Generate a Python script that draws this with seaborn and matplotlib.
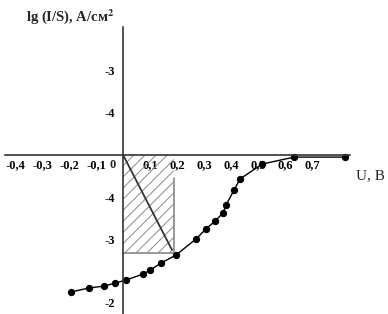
import matplotlib
matplotlib.use('Agg')
import matplotlib.pyplot as plt
import seaborn as sns
import pandas as pd

# voltage, V
u_volts = [-0.193, -0.126, -0.070, -0.030, 0.011, 0.074, 0.100, 0.141, 0.196,
           0.270, 0.307, 0.341, 0.370, 0.381, 0.411, 0.433, 0.515, 0.633, 0.822]
# lg(I/S) in the chart's own tick units (0 = horizontal axis)
lg_units = [-6.52, -6.33, -6.24, -6.10, -5.95, -5.67, -5.48, -5.14, -4.76,
            -4.00, -3.52, -3.14, -2.76, -2.38, -1.67, -1.14, -0.43, -0.10, -0.10]

x_ticks = [-0.4, -0.3, -0.2, -0.1, 0.1, 0.2, 0.3, 0.4, 0.5, 0.6, 0.7]
x_labels = ['-0,4', '-0,3', '-0,2', '-0,1', '0,1', '0,2', '0,3', '0,4', '0,5', '0,6', '0,7']
y_ticks = [6, 5, 4, 3, 2, 1, -1, -2, -3, -4, -5, -6, -7]
y_labels = ['', '', '-3', '', '-4', '', '', '-4', '', '-3', '', '', '-2']

# hatched region and its diagonal
box_x = [0, 0.19]
box_bottom = -4.67
diag_x = [0, 0.181]
diag_y = [0, -4.52]

df = pd.DataFrame({'U': u_volts, 'lg': lg_units})

sns.set_style('white')
plt.rcParams['font.family'] = ['Liberation Serif', 'DejaVu Serif']
plt.rcParams['mathtext.fontset'] = 'stix'
plt.rcParams['hatch.linewidth'] = 0.7

fig = plt.figure(figsize=(3.88, 3.14), dpi=100)
ax = fig.add_axes([0, 0, 1, 1])
ax.patch.set_alpha(0)

ax.fill_between(box_x, box_bottom, 0, facecolor='none', edgecolor='#8a8a8a',
                hatch='///', linewidth=0)
ax.plot([box_x[1], box_x[1], box_x[0]], [-1.1, box_bottom, box_bottom],
        color='#888888', lw=1.2)
ax.plot(diag_x, diag_y, color='#333333', lw=1.3)

sns.lineplot(data=df, x='U', y='lg', sort=False, color='black', lw=1.0,
             marker='o', markersize=4.5, markeredgecolor='black', ax=ax)

ax.set_xlim(-0.456, 0.981)
ax.set_ylim(-7.57, 7.38)

ax.spines['left'].set_position(('data', 0))
ax.spines['bottom'].set_position(('data', 0))
ax.spines['right'].set_visible(False)
ax.spines['top'].set_visible(False)
for s in ['left', 'bottom']:
    ax.spines[s].set_color('#333333')
    ax.spines[s].set_linewidth(1.2)
ax.spines['bottom'].set_bounds(-0.437, 0.841)
ax.spines['left'].set_bounds(-7.57, 6.1)

ax.set_xticks(x_ticks)
ax.set_xticklabels(x_labels, fontweight='bold', fontsize=9)
ax.set_yticks(y_ticks)
ax.set_yticklabels(y_labels, fontweight='bold', fontsize=9)
ax.tick_params(axis='x', direction='in', length=4, width=1, pad=3, colors='black')
ax.tick_params(axis='y', direction='out', length=4, width=1, pad=2, colors='black')
ax.set_xlabel('')
ax.set_ylabel('')

ax.annotate('0', xy=(0, 0), xytext=(-5, -3), textcoords='offset points',
            ha='right', va='top', fontsize=9, fontweight='bold')
ax.annotate('U, B', xy=(0.841, 0), xytext=(4, -10), textcoords='offset points',
            ha='left', va='top', fontsize=11)
fig.text(26 / 388, 1 - 17 / 314, 'lg (I/S), A/см$^{\\mathbf{2}}$',
         ha='left', va='center', fontsize=10.5, fontweight='bold')

fig.savefig('out.png', dpi=100)
